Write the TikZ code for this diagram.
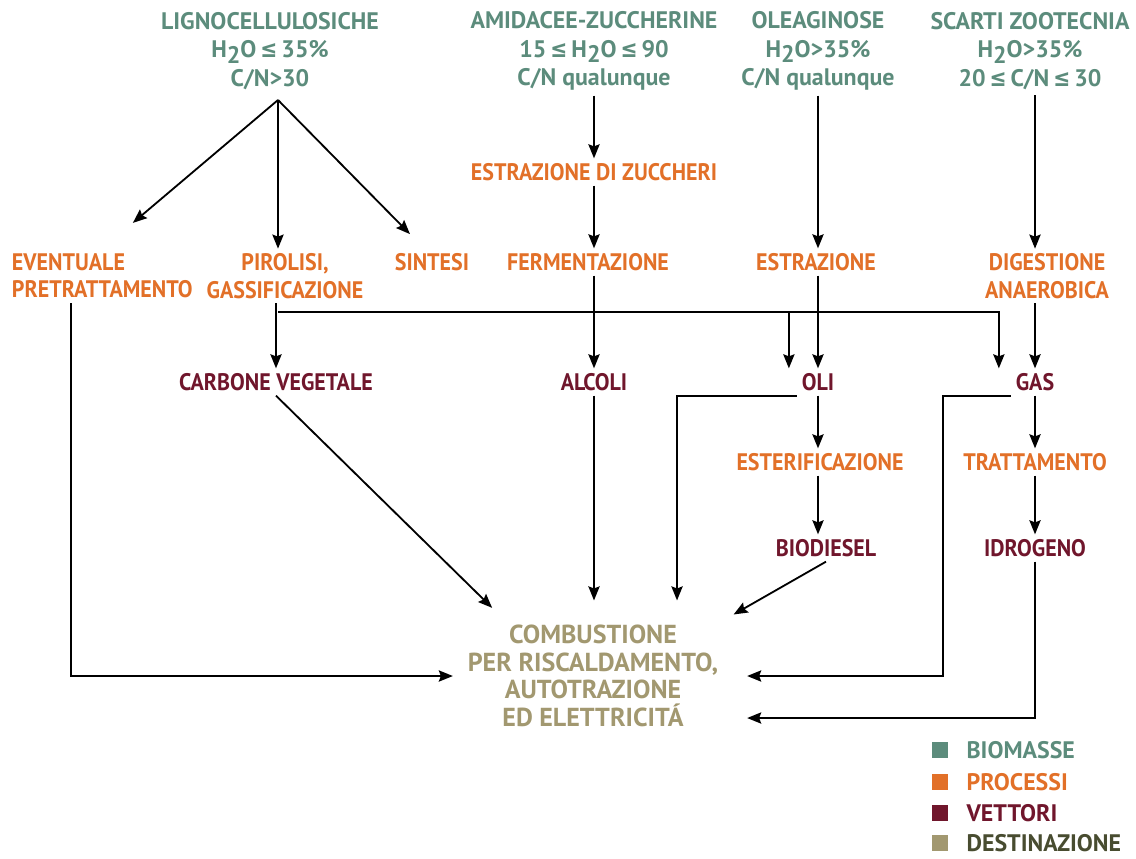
\documentclass[tikz,border=0pt]{standalone}
\usepackage{fontspec}
\setmainfont{PT Sans}
\newfontfamily\stretto{PT Sans}[FakeStretch=0.92]
\newfontfamily\simboli{DejaVu Sans}[FakeStretch=0.85]
\usetikzlibrary{arrows.meta, positioning, calc}
\definecolor{biomassateal}{RGB}{92,140,124}
\definecolor{processoorange}{RGB}{226,112,40}
\definecolor{vettoremaroon}{RGB}{112,22,44}
\definecolor{destinazionekhaki}{RGB}{162,152,112}
\definecolor{legendaolive}{RGB}{72,76,48}
\newcommand{\acqua}{H\raisebox{-0.45ex}{2}O}
\newcommand{\minore}{{\simboli\,≤\,}}
\tikzstyle{biomassa} = [align=center, text=biomassateal, font=\bfseries\fontsize{17}{20.5}\selectfont]
\tikzstyle{processo} = [align=center, text=processoorange, font=\stretto\bfseries\fontsize{17}{19.5}\selectfont]
\tikzstyle{vettore} = [align=center, text=vettoremaroon, font=\stretto\bfseries\fontsize{17}{19.5}\selectfont]
\tikzstyle{destinazione} = [align=center, text=destinazionekhaki, font=\bfseries\fontsize{18.5}{19.5}\selectfont]
\tikzstyle{quadrato} = [rectangle, minimum size=0.4cm, inner sep=0pt]
\tikzstyle{legenda} = [inner sep=0pt, anchor=west, font=\bfseries\fontsize{17}{20}\selectfont]
\tikzstyle{arrow} = [line width=1.3pt,->,>={Stealth[length=10pt,width=8pt,inset=1.5pt]}]

\begin{document}
\begin{tikzpicture}[x=0.025cm, y=-0.025cm]
      \useasboundingbox (0,0) rectangle (1136,858);
      % biomasse
      \node[biomassa] (ligno) at (270,51) {LIGNOCELLULOSICHE\\\acqua\minore35\%\\C/N>30};
      \node[biomassa] (amidacee) at (594,51) {AMIDACEE-ZUCCHERINE\\15\minore\acqua\minore90\\C/N qualunque};
      \node[biomassa] (oleaginose) at (818,51) {OLEAGINOSE\\\acqua>35\%\\C/N qualunque};
      \node[biomassa] (scarti) at (1030,51) {SCARTI ZOOTECNIA\\\acqua>35\%\\20\minore C/N\minore 30};

      % processi e vettori
      \node[processo] (zuccheri) at (594,172) {ESTRAZIONE DI ZUCCHERI};
      \node[processo, anchor=west, align=left] (pretrattamento) at (7,276) {EVENTUALE\\PRETRATTAMENTO};
      \node[processo] (pirolisi) at (285,276) {PIROLISI,\\GASSIFICAZIONE};
      \node[processo] (sintesi) at (432,262) {SINTESI};
      \node[processo] (fermentazione) at (588,262) {FERMENTAZIONE};
      \node[processo] (estrazione) at (816,262) {ESTRAZIONE};
      \node[processo] (digestione) at (1047,276) {DIGESTIONE\\ANAEROBICA};
      \node[vettore] (carbone) at (276,382) {CARBONE VEGETALE};
      \node[vettore] (alcoli) at (594,382) {ALCOLI};
      \node[vettore] (oli) at (818,382) {OLI};
      \node[vettore] (gas) at (1035,382) {GAS};
      \node[processo] (esterificazione) at (820,462) {ESTERIFICAZIONE};
      \node[processo] (trattamento) at (1035,462) {TRATTAMENTO};
      \node[vettore] (biodiesel) at (826,548) {BIODIESEL};
      \node[vettore] (idrogeno) at (1035,548) {IDROGENO};
      \node[destinazione] (combustione) at (593,676) {COMBUSTIONE\\PER RISCALDAMENTO,\\AUTOTRAZIONE\\ED ELETTRICITÁ};

      % legenda
      \node[quadrato, fill=biomassateal] (qbiomasse) at (940,750) {};
      \node[legenda, text=biomassateal, right=0.45cm of qbiomasse] (lbiomasse) {BIOMASSE};
      \node[quadrato, fill=processoorange] (qprocessi) at (940,782) {};
      \node[legenda, text=processoorange, right=0.45cm of qprocessi] (lprocessi) {PROCESSI};
      \node[quadrato, fill=vettoremaroon] (qvettori) at (940,813) {};
      \node[legenda, text=vettoremaroon, right=0.45cm of qvettori] (lvettori) {VETTORI};
      \node[quadrato, fill=destinazionekhaki] (qdestinazione) at (940,843) {};
      \node[legenda, text=legendaolive, right=0.45cm of qdestinazione] (ldestinazione) {DESTINAZIONE};

      \coordinate (vertice) at (278,100);
      \coordinate (bivio) at (278,312);

      \draw[arrow, shorten >=1cm] (vertice) -- (pretrattamento.north);
      \draw[arrow] (vertice) -- (vertice |- pirolisi.north);
      \draw[arrow, shorten >=0.5cm] (vertice) -- ([xshift=-0.2cm]sintesi.north);
      \draw[arrow] (amidacee.south -| alcoli) -- (zuccheri);
      \draw[arrow] (zuccheri) -- (zuccheri |- fermentazione.north);
      \draw[arrow] (oleaginose.south -| oli) -- (oli |- estrazione.north);
      \draw[arrow] (scarti.south -| gas) -- (gas |- digestione.north);
      \draw[arrow] ([xshift=1.6cm]pretrattamento.south west) |- ([xshift=-0.25cm]combustione.west);
      \draw[arrow] (pirolisi.south -| carbone) -- (carbone);
      \draw[arrow] (bivio) -| ([xshift=-0.2cm]oli.north west);
      \draw[arrow] (bivio) -| ([xshift=-0.3cm]gas.north west);
      \draw[arrow] (fermentazione.south -| alcoli) -- (alcoli);
      \draw[arrow] (estrazione.south -| oli) -- (oli);
      \draw[arrow] (digestione.south -| gas) -- (gas);
      \draw[arrow, shorten >=0.45cm] (carbone.south) -- ([xshift=-2.2cm]combustione.north);
      \draw[arrow, shorten >=0.5cm] (alcoli) -- (alcoli |- combustione.north);
      \draw[arrow, shorten >=0.5cm] (oli.south west) -| ([xshift=2.1cm]combustione.north);
      \draw[arrow] (oli) -- (oli |- esterificazione.north);
      \draw[arrow] (esterificazione.south -| oli) -- (oli |- biodiesel.north);
      \draw[arrow, shorten >=0.3cm] (biodiesel.south) -- (combustione.north east);
      \draw[arrow] (gas) -- (trattamento);
      \draw[arrow] (trattamento) -- (idrogeno);
      \draw[arrow, shorten >=0.6cm] (gas.south west) -- ++(-68,0) |- (combustione.east);
      \draw[arrow, shorten >=0.6cm] (idrogeno.south) |- ([yshift=-1.05cm]combustione.east);
    \end{tikzpicture}
\end{document}
